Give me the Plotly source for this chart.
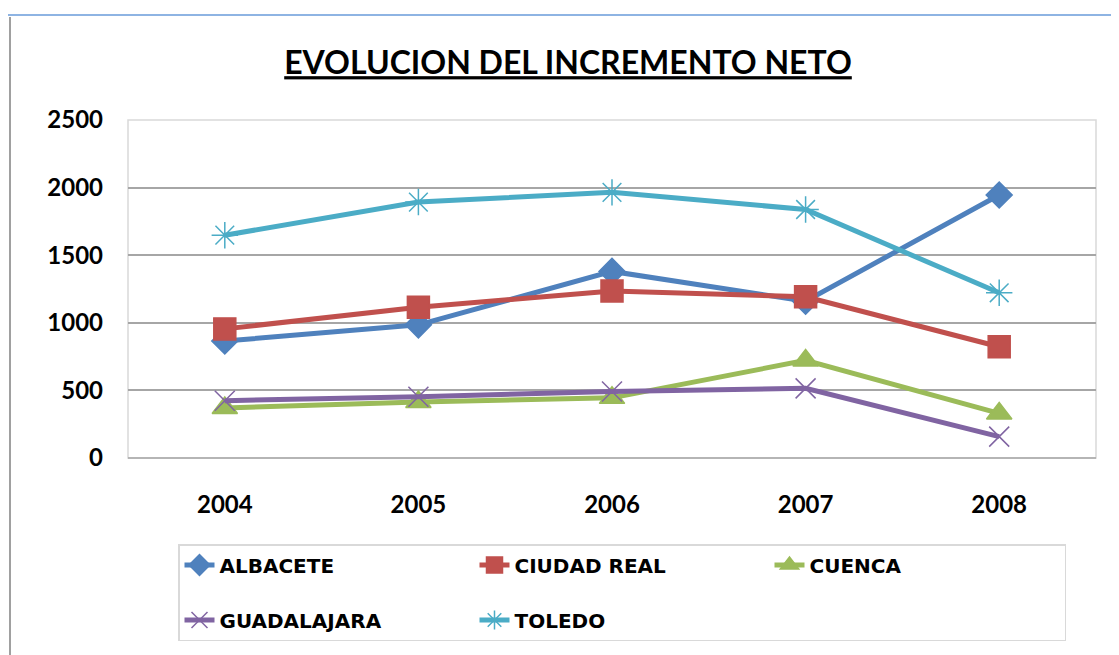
import plotly.graph_objects as go

years = ["2004", "2005", "2006", "2007", "2008"]
albacete = [865, 985, 1380, 1160, 1945]
ciudad_real = [955, 1115, 1235, 1193, 823]
cuenca = [370, 414, 445, 722, 330]
guadalajara = [424, 453, 492, 515, 158]
toledo = [1648, 1893, 1965, 1838, 1222]

series = [
    ("ALBACETE", albacete, "#4F81BD", "diamond", 20, True),
    ("CIUDAD REAL", ciudad_real, "#C0504D", "square", 22, True),
    ("CUENCA", cuenca, "#9BBB59", "triangle-up", 22, True),
    ("GUADALAJARA", guadalajara, "#8064A2", "x-thin-open", 20, False),
    ("TOLEDO", toledo, "#4BACC6", "asterisk-open", 22, False),
]

# page body has an 8px margin: work in reference coords minus 8
OFF = 8
W, H = 1119, 655
L, R, T, B = 128 - OFF, 1096 - OFF, 120 - OFF, 458 - OFF

fig = go.Figure()
for name, vals, col, sym, sz, first_row in series:
    fig.add_trace(go.Scatter(
        x=years, y=vals, name=(name + "<br> ") if first_row else name, mode="lines+markers",
        line=dict(color=col, width=5),
        marker=dict(symbol=sym, size=sz, color=col, line=dict(color=col, width=1.5)),
    ))

def px(x):
    return (x - OFF - L) / (R - L)

def py(y):
    return (B - (y - OFF)) / (B - T)

fig.update_layout(
    width=W, height=H,
    margin=dict(l=L, r=W - R, t=T, b=H - B, autoexpand=False),
    paper_bgcolor="white", plot_bgcolor="white",
    font=dict(family="Lato, Open Sans, sans-serif", color="black"),
    title=dict(text="<b>EVOLUCION DEL INCREMENTO NETO</b>",
               x=(568 - OFF) / W, xref="container", xanchor="center",
               y=1 - (63 - OFF) / H, yref="container", yanchor="middle",
               font=dict(size=32, family="Lato, sans-serif", color="black", lineposition="under")),
    xaxis=dict(type="category", range=[-0.5, 4.5], showgrid=False, zeroline=False,
               showline=False, ticks="", ticklabelstandoff=30,
               tickfont=dict(size=24, family="Lato, sans-serif", weight="bold")),
    yaxis=dict(range=[0, 2500], dtick=500, showgrid=True, gridcolor="#a6a6a6", gridwidth=1.5,
               zeroline=False, showline=False, ticks="", ticklabelstandoff=24,
               tickfont=dict(size=24, family="Lato, sans-serif", weight="bold")),
    legend=dict(orientation="h",
                xref="container", yref="container",
                x=(178 - OFF) / W, y=1 - (544 - OFF) / H, xanchor="left", yanchor="top",
                entrywidth=250, entrywidthmode="pixels", valign="top",
                bordercolor="#d9d9d9", borderwidth=1.5, bgcolor="white",
                font=dict(size=20, family="DejaVu Sans, sans-serif", color="black", weight="bold"),
                itemsizing="trace", tracegroupgap=0),
    showlegend=True,
)

shapes = [
    dict(type="rect", xref="paper", yref="paper", x0=0, y0=0, x1=1, y1=1,
         line=dict(color="#d9d9d9", width=1.5), layer="below"),
    dict(type="line", xref="paper", yref="paper", x0=0, y0=0, x1=1, y1=0,
         line=dict(color="#a6a6a6", width=1.5), layer="below"),
    dict(type="rect", xref="paper", yref="paper", x0=px(7), y0=py(H + 30), x1=px(W + 30), y1=py(15),
         line=dict(color="#8EB4E3", width=2)),
    dict(type="line", xref="paper", yref="paper", x0=px(10), y0=py(H + 30), x1=px(10), y1=py(17),
         line=dict(color="#a0a0a0", width=2)),
]
fig.update_layout(shapes=shapes)

fig.write_html("out.html")
